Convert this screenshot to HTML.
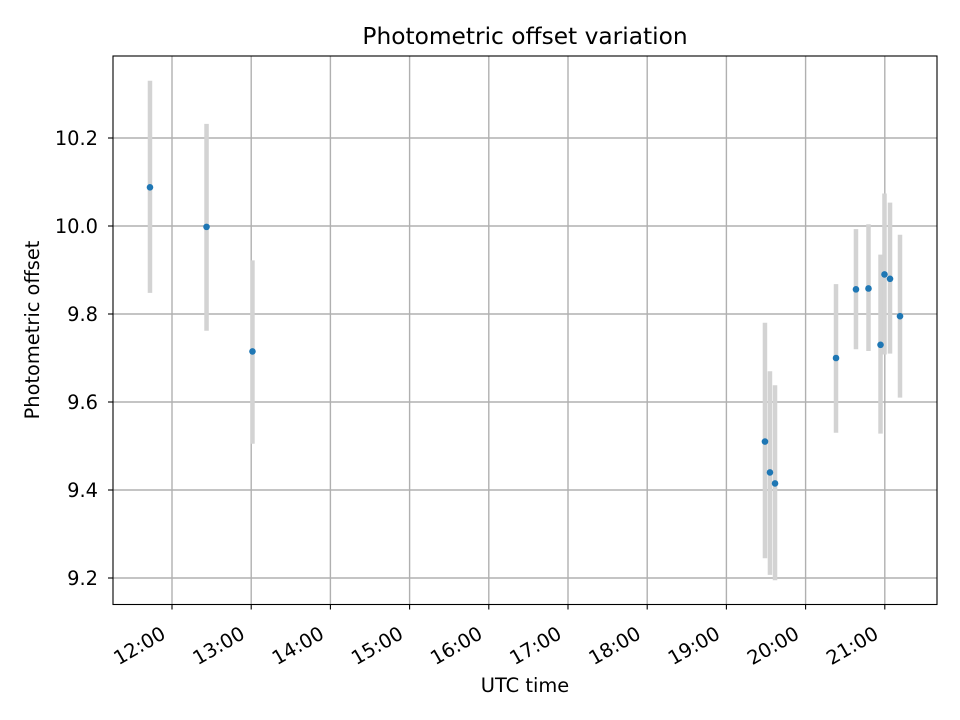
<!DOCTYPE html>
<html><head><meta charset="utf-8"><style>body{margin:0;background:#fff}svg{display:block;font-family:"DejaVu Sans","Liberation Sans",sans-serif}</style></head>
<body>
<svg id="chart" width="960" height="720" xmlns="http://www.w3.org/2000/svg"></svg>
<script>
const times = [11.722, 12.436, 13.016, 19.487, 19.55, 19.614, 20.384, 20.636, 20.794, 20.946, 20.996, 21.066, 21.192];
const offsets = [10.088, 9.998, 9.715, 9.51, 9.44, 9.415, 9.70, 9.856, 9.858, 9.73, 9.89, 9.88, 9.795];
const errLow = [9.848, 9.762, 9.505, 9.245, 9.207, 9.195, 9.53, 9.72, 9.716, 9.528, 9.708, 9.71, 9.61];
const errHigh = [10.33, 10.232, 9.922, 9.78, 9.67, 9.638, 9.868, 9.993, 10.004, 9.935, 10.074, 10.053, 9.98];
const xTicks = [12,13,14,15,16,17,18,19,20,21];
const xTickLabels = ["12:00","13:00","14:00","15:00","16:00","17:00","18:00","19:00","20:00","21:00"];
const yTicks = [9.2,9.4,9.6,9.8,10.0,10.2];
const yTickLabels = ["9.2","9.4","9.6","9.8","10.0","10.2"];

const L=113,R=937,T=56,B=604.5;
const xs = h => 172 + (h-12)*79.2;
const ys = v => 578 - (v-9.2)*440;
const svg=document.getElementById('chart');
const NS='http://www.w3.org/2000/svg';
function mk(tag,attrs,parent){const e=document.createElementNS(NS,tag);for(const k in attrs)e.setAttribute(k,attrs[k]);(parent||svg).appendChild(e);return e;}

const grid=mk('g',{});


xTicks.forEach(t=>{mk('line',{x1:xs(t),x2:xs(t),y1:T,y2:B,stroke:'#b0b0b0','stroke-width':1.4},grid);});
yTicks.forEach(t=>{mk('line',{x1:L,x2:R,y1:ys(t),y2:ys(t),stroke:'#b0b0b0','stroke-width':1.4},grid);});

const eb=mk('g',{});


times.forEach((t,i)=>{const l=mk('line',{x1:xs(t),x2:xs(t),y1:ys(errHigh[i]),y2:ys(errLow[i]),stroke:'#d3d3d3','stroke-width':4.5},eb);

});

const pts=mk('g',{});


times.forEach((t,i)=>{const c=mk('circle',{cx:xs(t),cy:ys(offsets[i]),r:3.3,fill:'#1f77b4'},pts);

});

const frame=mk('rect',{x:L,y:T,width:R-L,height:B-T,fill:'none',stroke:'#000','stroke-width':1.1});



const xa=mk('g',{});


xTicks.forEach((t,i)=>{const x=xs(t);mk('line',{x1:x,x2:x,y1:B,y2:B+5,stroke:'#000','stroke-width':1.1},xa);
const bx=x-5, by=B+33;
const tx=mk('text',{x:bx,y:by,'text-anchor':'end','font-size':19.4,transform:`rotate(-30 ${bx} ${by})`},xa);tx.textContent=xTickLabels[i];

});
const ya=mk('g',{});


yTicks.forEach((t,i)=>{const y=ys(t);mk('line',{x1:L-5,x2:L,y1:y,y2:y,stroke:'#000','stroke-width':1.1},ya);
const tx=mk('text',{x:L-15,y:y+7,'text-anchor':'end','font-size':19.4},ya);tx.textContent=yTickLabels[i];

});
</script>
<svg style="position:absolute;left:0;top:0" width="960" height="720" xmlns="http://www.w3.org/2000/svg" font-family="DejaVu Sans, Liberation Sans, sans-serif">
<text x="525" y="44" text-anchor="middle" font-size="23.3">Photometric offset variation</text>
<text x="525" y="692" text-anchor="middle" font-size="19.4">UTC time</text>
<text x="39" y="330" text-anchor="middle" font-size="19.4" transform="rotate(-90 39 330)">Photometric offset</text>
</svg>
</body></html>
